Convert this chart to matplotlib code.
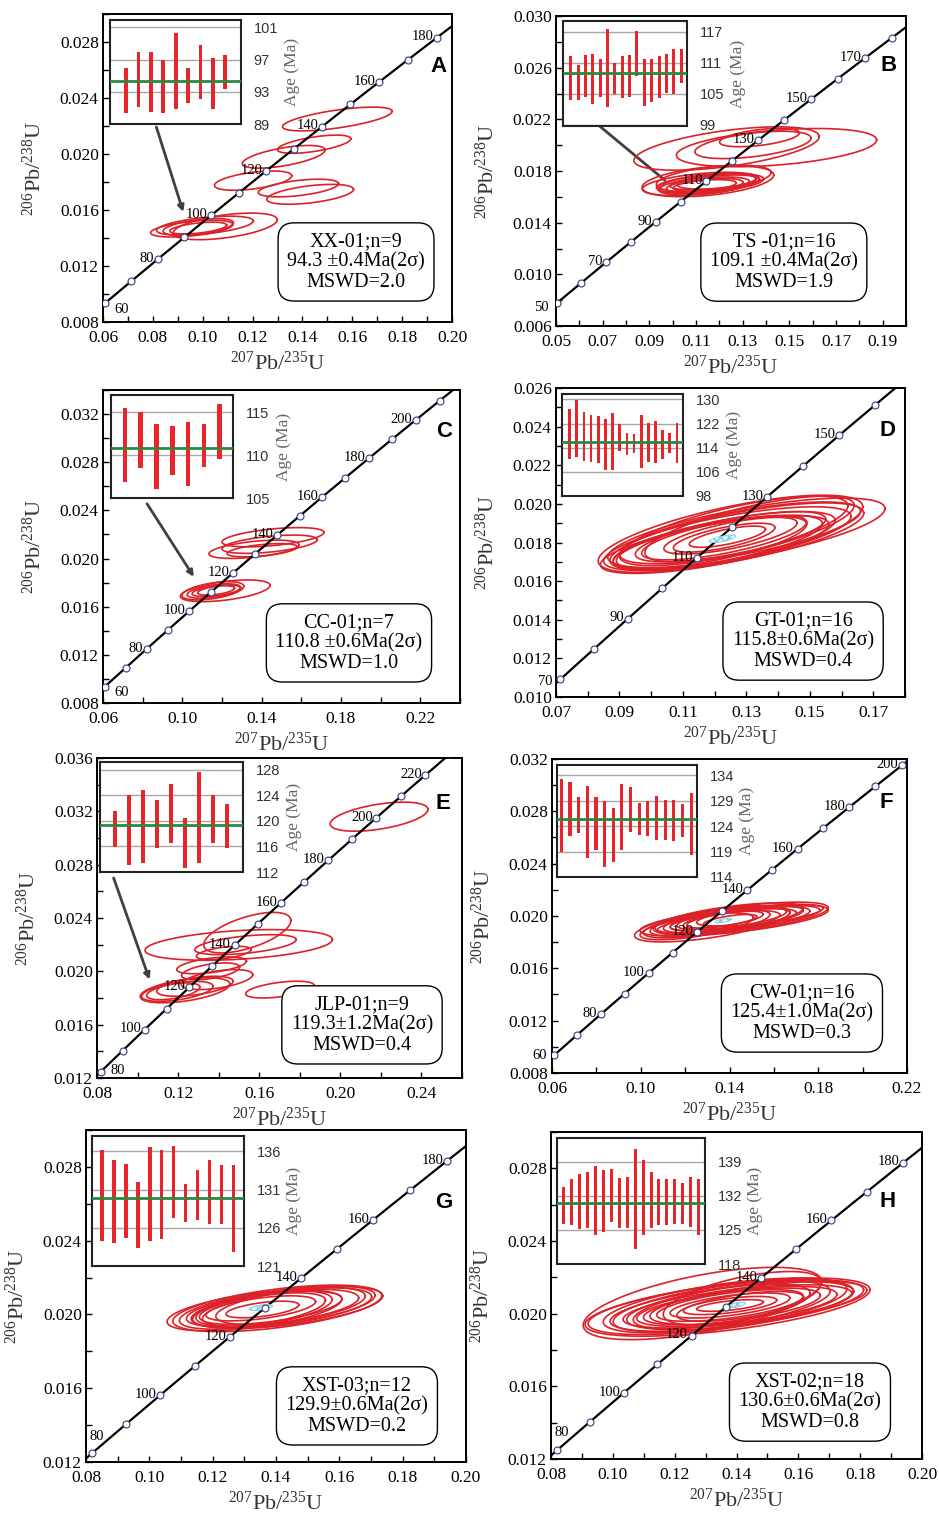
import numpy as np
import matplotlib
matplotlib.use('Agg')
import matplotlib.pyplot as plt
from matplotlib.ticker import MultipleLocator, FormatStrFormatter

plt.rcParams['font.family'] = ['Liberation Serif', 'DejaVu Serif']
plt.rcParams['mathtext.fontset'] = 'custom'
plt.rcParams['mathtext.rm'] = 'Liberation Serif'
plt.rcParams['mathtext.it'] = 'Liberation Serif:italic'

W, H = 939, 1515
L238 = 1.55125e-4   # decay constants, 1/Ma
L235 = 9.8485e-4

# ---------------- data ----------------
# error ellipses: (207Pb/235U, 206Pb/238U, x half-width, y half-height, rho)
ell_A = [(0.1540, 0.02250, 0.0220, 0.00085, 0.65), (0.1447, 0.02070, 0.0147, 0.00065, 0.6),
         (0.1325, 0.01980, 0.0166, 0.00081, 0.6), (0.1202, 0.01810, 0.0155, 0.00069, 0.5),
         (0.1384, 0.01757, 0.0161, 0.00063, 0.5), (0.1431, 0.01712, 0.0174, 0.00071, 0.5),
         (0.1090, 0.01483, 0.0209, 0.00095, 0.5), (0.0956, 0.01467, 0.0165, 0.00060, 0.5),
         (0.1009, 0.01488, 0.0194, 0.00068, 0.5), (0.0982, 0.01479, 0.0141, 0.00060, 0.5),
         (0.0982, 0.01471, 0.0114, 0.00042, 0.5)]
ell_B = [(0.1445, 0.01981, 0.0429, 0.00148, 0.4), (0.1231, 0.01974, 0.0397, 0.00168, 0.55),
         (0.1344, 0.02002, 0.0249, 0.00106, 0.5), (0.1372, 0.02059, 0.0171, 0.00071, 0.5),
         (0.1151, 0.01721, 0.0282, 0.00120, 0.4), (0.1176, 0.01742, 0.0246, 0.00103, 0.45),
         (0.1147, 0.01698, 0.0210, 0.00084, 0.45), (0.1137, 0.01690, 0.0192, 0.00064, 0.45),
         (0.1137, 0.01688, 0.0164, 0.00055, 0.45), (0.1137, 0.01688, 0.0135, 0.00045, 0.45),
         (0.1180, 0.01711, 0.0192, 0.00058, 0.45), (0.1160, 0.01705, 0.0230, 0.00075, 0.45),
         (0.1120, 0.01700, 0.0250, 0.00090, 0.45), (0.1190, 0.01720, 0.0170, 0.00060, 0.45)]
ell_C = [(0.1457, 0.02177, 0.0257, 0.00080, 0.5), (0.1361, 0.02077, 0.0227, 0.00076, 0.5),
         (0.1440, 0.02119, 0.0240, 0.00076, 0.5), (0.1403, 0.02069, 0.0177, 0.00055, 0.5),
         (0.1216, 0.01732, 0.0226, 0.00090, 0.5), (0.1154, 0.01732, 0.0156, 0.00076, 0.5),
         (0.1159, 0.01730, 0.0135, 0.00060, 0.5), (0.1171, 0.01732, 0.0122, 0.00048, 0.5),
         (0.1170, 0.01735, 0.0093, 0.00039, 0.5)]
ell_D = [(0.1300, 0.01850, 0.0437, 0.00180, 0.7), (0.1250, 0.01845, 0.0417, 0.00200, 0.7),
         (0.1270, 0.01830, 0.0400, 0.00175, 0.7), (0.1240, 0.01820, 0.0390, 0.00165, 0.7),
         (0.1260, 0.01860, 0.0360, 0.00180, 0.72), (0.1230, 0.01810, 0.0350, 0.00150, 0.7),
         (0.1280, 0.01850, 0.0380, 0.00160, 0.7), (0.1210, 0.01800, 0.0330, 0.00140, 0.7),
         (0.1250, 0.01830, 0.0300, 0.00130, 0.7), (0.1230, 0.01825, 0.0260, 0.00115, 0.7),
         (0.1250, 0.01835, 0.0210, 0.00095, 0.7), (0.1230, 0.01825, 0.0160, 0.00075, 0.7),
         (0.1240, 0.01830, 0.0120, 0.00055, 0.7), (0.1200, 0.01790, 0.0360, 0.00150, 0.7),
         (0.1310, 0.01870, 0.0330, 0.00170, 0.72), (0.1190, 0.01800, 0.0300, 0.00135, 0.7)]
ell_E = [(0.2191, 0.03160, 0.0241, 0.00109, 0.5), (0.1541, 0.02290, 0.0215, 0.00152, 0.6),
         (0.1499, 0.02198, 0.0462, 0.00115, 0.35), (0.1532, 0.02200, 0.0250, 0.00075, 0.5),
         (0.1425, 0.02138, 0.0135, 0.00050, 0.5), (0.1365, 0.02045, 0.0172, 0.00063, 0.5),
         (0.1360, 0.02000, 0.0143, 0.00063, 0.5), (0.1392, 0.01938, 0.0176, 0.00075, 0.5),
         (0.1234, 0.01858, 0.0221, 0.00094, 0.5), (0.1196, 0.01850, 0.0176, 0.00075, 0.5),
         (0.1176, 0.01850, 0.0131, 0.00063, 0.5), (0.1283, 0.01888, 0.0188, 0.00075, 0.5),
         (0.1702, 0.01863, 0.0169, 0.00063, 0.5)]
ell_F = [(0.1322, 0.01940, 0.0350, 0.00138, 0.65), (0.1421, 0.01967, 0.0424, 0.00121, 0.65),
         (0.1451, 0.01982, 0.0394, 0.00124, 0.65), (0.1398, 0.01985, 0.0334, 0.00115, 0.65),
         (0.1470, 0.01982, 0.0337, 0.00098, 0.65), (0.1410, 0.01980, 0.0247, 0.00083, 0.65),
         (0.1380, 0.01972, 0.0172, 0.00064, 0.65), (0.1402, 0.01967, 0.0120, 0.00045, 0.65),
         (0.1297, 0.01941, 0.0285, 0.00108, 0.65), (0.1357, 0.01954, 0.0315, 0.00108, 0.65),
         (0.1432, 0.01972, 0.0330, 0.00102, 0.65), (0.1252, 0.01921, 0.0255, 0.00102, 0.65),
         (0.1417, 0.01970, 0.0285, 0.00085, 0.65), (0.1462, 0.01985, 0.0270, 0.00089, 0.65),
         (0.1350, 0.01949, 0.0277, 0.00092, 0.65), (0.1537, 0.02005, 0.0285, 0.00083, 0.65)]
ell_G = [(0.1332, 0.02022, 0.0276, 0.00111, 0.55), (0.1404, 0.02033, 0.0330, 0.00126, 0.55),
         (0.1437, 0.02038, 0.0300, 0.00114, 0.55), (0.1417, 0.02036, 0.0285, 0.00109, 0.55),
         (0.1389, 0.02034, 0.0272, 0.00102, 0.55), (0.1383, 0.02036, 0.0225, 0.00090, 0.55),
         (0.1352, 0.02033, 0.0173, 0.00068, 0.55), (0.1357, 0.02027, 0.0115, 0.00045, 0.55),
         (0.1336, 0.02024, 0.0241, 0.00104, 0.55), (0.1430, 0.02043, 0.0283, 0.00111, 0.55),
         (0.1446, 0.02045, 0.0236, 0.00100, 0.55), (0.1362, 0.02027, 0.0194, 0.00090, 0.55)]
ell_H = [(0.1290, 0.02056, 0.0386, 0.00199, 0.6), (0.1371, 0.02036, 0.0461, 0.00160, 0.6),
         (0.1349, 0.02036, 0.0429, 0.00151, 0.6), (0.1385, 0.02040, 0.0394, 0.00137, 0.6),
         (0.1403, 0.02040, 0.0370, 0.00119, 0.6), (0.1401, 0.02040, 0.0324, 0.00110, 0.6),
         (0.1385, 0.02040, 0.0286, 0.00101, 0.6), (0.1379, 0.02045, 0.0237, 0.00087, 0.6),
         (0.1379, 0.02045, 0.0194, 0.00069, 0.6), (0.1379, 0.02045, 0.0151, 0.00050, 0.6),
         (0.1379, 0.02045, 0.0108, 0.00032, 0.6), (0.1363, 0.02045, 0.0394, 0.00151, 0.6),
         (0.1352, 0.02040, 0.0351, 0.00140, 0.6), (0.1428, 0.02049, 0.0383, 0.00137, 0.6),
         (0.1471, 0.02058, 0.0351, 0.00119, 0.6), (0.1419, 0.02085, 0.0256, 0.00147, 0.6),
         (0.1352, 0.02040, 0.0286, 0.00123, 0.6), (0.1412, 0.02040, 0.0205, 0.00082, 0.6)]

# concordia-age ellipses (D, F, G, H)
mean_ell = {'D': (0.1225, 0.01819, 0.0042, 0.00020, 0.7),
            'F': (0.1372, 0.01964, 0.0037, 0.00017, 0.65),
            'G': (0.1352, 0.02038, 0.0037, 0.00016, 0.55),
            'H': (0.1401, 0.02048, 0.0027, 0.00015, 0.6)}

# single-grain 206Pb/238U ages and 2s errors (Ma) for the weighted-mean insets
ages_A = [93.2, 94.5, 94.2, 93.7, 95.6, 93.75, 95.45, 94.0, 95.45]
errs_A = [2.8, 3.4, 3.7, 3.3, 4.7, 2.15, 3.35, 3.2, 2.05]
ages_B = [108.1, 107.15, 108.55, 107.95, 108.15, 110.05, 107.95, 108.25, 108.55, 112.8,
          107.2, 107.65, 108.25, 108.9, 109.3, 110.4]
errs_B = [4.2, 3.35, 4.05, 4.85, 3.65, 7.55, 3.05, 4.05, 4.05, 4.3, 4.6, 4.15, 4.05, 3.8, 4.3, 3.3]
ages_C = [111.2, 111.75, 109.8, 110.55, 110.15, 111.1, 112.75]
errs_C = [4.3, 3.25, 3.8, 2.85, 3.75, 2.5, 3.25]
ages_D = [118.45, 120.35, 117.75, 117.1, 116.8, 115.0, 116.0, 117.45, 115.2, 115.45, 116.2,
          115.7, 116.05, 115.0, 115.65, 115.55]
errs_D = [8.35, 9.35, 8.05, 7.8, 7.8, 8.4, 9.4, 4.45, 3.6, 3.15, 8.8, 6.4, 6.95, 4.9, 3.35, 6.75]
ages_E = [118.75, 118.55, 119.1, 119.5, 121.15, 116.5, 120.5, 120.3, 119.2]
errs_E = [2.85, 5.45, 5.7, 3.8, 4.55, 3.9, 7.1, 3.8, 3.4]
ages_F = [126.15, 127.4, 126.15, 124.75, 124.5, 122.45, 122.3, 125.75, 127.25, 125.45, 125.5,
          125.65, 125.25, 125.1, 125.15, 124.45]
errs_F = [7.15, 5.3, 3.55, 7.05, 5.2, 6.45, 5.3, 6.45, 4.45, 3.15, 3.4, 4.35, 3.95, 4.1, 3.25, 6.05]
ages_G = [130.25, 129.45, 129.45, 127.65, 130.4, 130.35, 132.0, 129.2, 130.3, 130.65, 130.35, 128.5]
errs_G = [5.95, 5.45, 4.85, 4.35, 6.1, 5.85, 4.7, 2.5, 3.3, 4.15, 3.85, 5.7]
ages_H = [130.1, 130.8, 130.85, 131.15, 131.05, 130.95, 132.1, 130.6, 130.6, 131.35, 131.65,
          131.2, 130.75, 130.75, 130.8, 130.5, 130.75, 129.75]
errs_H = [3.8, 4.7, 5.65, 5.75, 7.15, 6.45, 5.5, 5.1, 5.2, 10.35, 7.65, 5.7, 4.75, 4.75, 4.6,
          4.2, 5.15, 5.75]

letters = ['A', 'B', 'C', 'D', 'E', 'F', 'G', 'H']
samples = ['XX-01', 'TS -01', 'CC-01', 'GT-01', 'JLP-01', 'CW-01', 'XST-03', 'XST-02']
n_grains = [9, 16, 7, 16, 9, 16, 12, 18]
mean_ages = [94.3, 109.1, 110.8, 115.8, 119.3, 125.4, 129.9, 130.6]
age_text = ['94.3 ±0.4Ma(2σ)', '109.1 ±0.4Ma(2σ)', '110.8 ±0.6Ma(2σ)', '115.8±0.6Ma(2σ)',
            '119.3±1.2Ma(2σ)', '125.4±1.0Ma(2σ)', '129.9±0.6Ma(2σ)', '130.6±0.6Ma(2σ)']
mswd = ['2.0', '1.9', '1.0', '0.4', '0.4', '0.3', '0.2', '0.8']
conc_labels = {'A': [60, 80, 100, 120, 140, 160, 180], 'B': [50, 70, 90, 110, 130, 150, 170],
               'C': [60, 80, 100, 120, 140, 160, 180, 200], 'D': [70, 90, 110, 130, 150],
               'E': [80, 100, 120, 140, 160, 180, 200, 220],
               'F': [60, 80, 100, 120, 140, 160, 180, 200],
               'G': [80, 100, 120, 140, 160, 180], 'H': [80, 100, 120, 140, 160, 180]}
ell_all = [ell_A, ell_B, ell_C, ell_D, ell_E, ell_F, ell_G, ell_H]
ages_all = [ages_A, ages_B, ages_C, ages_D, ages_E, ages_F, ages_G, ages_H]
errs_all = [errs_A, errs_B, errs_C, errs_D, errs_E, errs_F, errs_G, errs_H]

# ---------------- layout (pixels) ----------------
layout = {
    'A': dict(rect=(103, 14, 452, 322), xlim=(0.06, 0.20), ylim=(0.008, 0.030), xt=(0.06, 0.02, 0.01),
              yt=(0.008, 0.004, 0.002), inset=(110, 20, 241, 124), iy=(89, 101.9), iyt=[89, 93, 97, 101],
              ix=(1.29, 1.26), bw=0.3, box=(0.725, 0.195), let=(0.96, 0.828),
              off={60: (6.5, -4.5, 'left')}, arrow=((0.0814, 0.02193), (0.0922, 0.01586), '-|>')),
    'B': dict(rect=(556, 16, 906, 326), xlim=(0.05, 0.20), ylim=(0.006, 0.030), xt=(0.05, 0.02, 0.01),
              yt=(0.006, 0.004, 0.002), inset=(563, 21, 687, 126), iy=(98.8, 119.1), iyt=[99, 105, 111, 117],
              ix=(1.05, 0.8), bw=0.4, box=(0.651, 0.206), let=(0.949, 0.839),
              off={50: (-6, -3.5, 'right')}, arrow=((0.0688, 0.02146), (0.0966, 0.01729), '-')),
    'C': dict(rect=(103, 390, 460, 703), xlim=(0.06, 0.24), ylim=(0.008, 0.034), xt=(0.06, 0.04, 0.02),
              yt=(0.008, 0.004, 0.002), inset=(111, 395, 233, 498), iy=(105, 117), iyt=[105, 110, 115],
              ix=(0.88, 0.84), bw=0.3, box=(0.689, 0.192), let=(0.955, 0.869),
              off={60: (7, -4.5, 'left')}, arrow=((0.0822, 0.02455), (0.1058, 0.01848), '-|>')),
    'D': dict(rect=(556, 388, 905, 697), xlim=(0.07, 0.18), ylim=(0.010, 0.026), xt=(0.07, 0.02, 0.01),
              yt=(0.010, 0.002, 0.001), inset=(562, 394, 683, 496), iy=(98, 131.8),
              iyt=[98, 106, 114, 122, 130], ix=(1.07, 0.84), bw=0.38, box=(0.708, 0.181),
              let=(0.951, 0.861), off={70: (-6, -1.5, 'right')}, arrow=None),
    'E': dict(rect=(97, 758, 462, 1078), xlim=(0.08, 0.26), ylim=(0.012, 0.036), xt=(0.08, 0.04, 0.02),
              yt=(0.012, 0.004, 0.002), inset=(100, 762, 243, 872), iy=(112, 129.2),
              iyt=[112, 116, 120, 124, 128], ix=(1.04, 1.13), bw=0.3, box=(0.726, 0.166),
              let=(0.948, 0.859), off={80: (7, 1, 'left')},
              arrow=((0.0882, 0.0270), (0.1059, 0.01938), '-|>')),
    'F': dict(rect=(552, 759, 907, 1073), xlim=(0.06, 0.22), ylim=(0.008, 0.032), xt=(0.06, 0.04, 0.02),
              yt=(0.008, 0.004, 0.002), inset=(557, 765, 697, 877), iy=(114, 136),
              iyt=[114, 119, 124, 129, 134], ix=(0.5, 0.66), bw=0.35, box=(0.704, 0.191),
              let=(0.941, 0.863), off={60: (-5, 0, 'right')}, arrow=None),
    'G': dict(rect=(86, 1130, 466, 1462), xlim=(0.08, 0.20), ylim=(0.012, 0.030), xt=(0.08, 0.02, 0.01),
              yt=(0.012, 0.004, 0.002), inset=(92, 1136, 244, 1266), iy=(121, 138),
              iyt=[121, 126, 131, 136], ix=(0.83, 0.89), bw=0.3, box=(0.713, 0.169),
              let=(0.942, 0.783), off={80: (-2, 12, 'left')}, arrow=None),
    'H': dict(rect=(551, 1132, 922, 1459), xlim=(0.08, 0.20), ylim=(0.012, 0.030), xt=(0.08, 0.02, 0.01),
              yt=(0.012, 0.004, 0.002), inset=(557, 1138, 705, 1264), iy=(118, 143.9),
              iyt=[118, 125, 132, 139], ix=(0.84, 0.8), bw=0.38, box=(0.698, 0.174),
              let=(0.908, 0.786), off={80: (-2, 13, 'left')}, arrow=None),
}

RED = '#dc2128'
GREEN = '#2a8a3c'
NAVY = '#2b3f80'


def px_rect(l, t, r, b):
    return [l / W, 1 - b / H, (r - l) / W, (b - t) / H]


def ellipse_xy(cx, cy, a, b, rho, n=240):
    th = np.linspace(0, 2 * np.pi, n)
    x = cx + a * np.cos(th)
    y = cy + rho * b * np.cos(th) + b * np.sqrt(1 - rho ** 2) * np.sin(th)
    return x, y


fig = plt.figure(figsize=(W / 100, H / 100), dpi=100)

for k, let in enumerate(letters):
    lay = layout[let]
    ax = fig.add_axes(px_rect(*lay['rect']))
    ax.set_xlim(*lay['xlim'])
    ax.set_ylim(*lay['ylim'])

    # concordia curve
    t = np.linspace(1, 400, 800)
    ax.plot(np.expm1(L235 * t), np.expm1(L238 * t), color='black', lw=1.6, zorder=4)
    tm = np.arange(10, 410, 10)
    ax.plot(np.expm1(L235 * tm), np.expm1(L238 * tm), 'o', ms=5, mfc='white', mec=NAVY,
            mew=0.8, zorder=5)
    for age in conc_labels[let]:
        dx, dy, ha = lay['off'].get(age, (-2.5, 0.5, 'right'))
        ax.annotate(str(age), (np.expm1(L235 * age), np.expm1(L238 * age)), xytext=(dx, dy),
                    textcoords='offset points', ha=ha, va='center', fontsize=10.5, zorder=6)

    # error ellipses
    for (cx, cy, a, b, rho) in ell_all[k]:
        ex, ey = ellipse_xy(cx, cy, a, b, rho)
        ax.plot(ex, ey, color=RED, lw=1.2, zorder=3)
    if let in mean_ell:
        ex, ey = ellipse_xy(*mean_ell[let])
        ax.fill(ex, ey, facecolor='#e4f6fb', edgecolor='#7fcde0', hatch='xxxx', lw=0.6, zorder=4.5)

    if lay['arrow'] is not None:
        tail, head, style = lay['arrow']
        ax.annotate('', xy=head, xytext=tail,
                    arrowprops=dict(arrowstyle=style, color='#404040', lw=2, mutation_scale=9,
                                    shrinkA=0, shrinkB=0), zorder=2)

    # ticks
    x0, xs, xm = lay['xt']
    y0, ys, ym = lay['yt']
    ax.set_xticks(np.arange(x0, lay['xlim'][1] + 1e-9, xs))
    ax.set_yticks(np.arange(y0, lay['ylim'][1] + 1e-9, ys))
    ax.xaxis.set_minor_locator(MultipleLocator(xm))
    ax.yaxis.set_minor_locator(MultipleLocator(ym))
    ax.xaxis.set_major_formatter(FormatStrFormatter('%.2f'))
    ax.yaxis.set_major_formatter(FormatStrFormatter('%.3f'))
    ax.tick_params(which='both', direction='in', length=4, width=1, top=False, right=False)
    ax.tick_params(axis='y', labelsize=12.5, pad=3)
    ax.tick_params(axis='x', labelsize=12.5, pad=6)
    for sp in ax.spines.values():
        sp.set_linewidth(1.4)
    ax.set_xlabel('$^{207}$Pb/$^{235}$U', fontsize=16, color='#333333', labelpad=4)
    ax.set_ylabel('$^{206}$Pb/$^{238}$U', fontsize=16, color='#333333', labelpad=10)

    # result box and panel letter
    txt = f'{samples[k]};n={n_grains[k]}\n{age_text[k]}\nMSWD={mswd[k]}'
    ax.text(*lay['box'], txt, transform=ax.transAxes, ha='center', va='center',
            multialignment='center', fontsize=14.5, linespacing=1.1, zorder=8,
            bbox=dict(boxstyle='round,pad=0.45,rounding_size=0.8', fc='white', ec='black', lw=1))
    ax.text(*lay['let'], let, transform=ax.transAxes, ha='center', va='center', fontsize=16,
            fontweight='bold', family=['Liberation Sans', 'DejaVu Sans'], zorder=8)

    # weighted-mean inset
    ins = fig.add_axes(px_rect(*lay['inset']))
    ages = np.array(ages_all[k])
    errs = np.array(errs_all[k])
    idx = np.arange(1, len(ages) + 1)
    ins.bar(idx, 2 * errs, bottom=ages - errs, width=lay['bw'], color='#e8252b', zorder=3)
    ins.axhline(mean_ages[k], color=GREEN, lw=2, zorder=4)
    for yt in lay['iyt']:
        ins.axhline(yt, color='#a8a8a8', lw=1, zorder=1)
    ins.set_xlim(1 - lay['ix'][0], len(ages) + lay['ix'][1])
    ins.set_ylim(*lay['iy'])
    ins.set_xticks([])
    ins.set_yticks(lay['iyt'])
    ins.yaxis.tick_right()
    ins.yaxis.set_label_position('right')
    ins.tick_params(axis='y', length=0, pad=9, labelsize=10.5, labelcolor='#333333')
    for lab in ins.get_yticklabels():
        lab.set_family(['Liberation Sans', 'DejaVu Sans'])
    ins.set_ylabel('Age (Ma)', fontsize=12.5, color='#666666', labelpad=4)
    for sp in ins.spines.values():
        sp.set_linewidth(1.5)
        sp.set_color('#222222')

fig.savefig('out.png', dpi=100)
